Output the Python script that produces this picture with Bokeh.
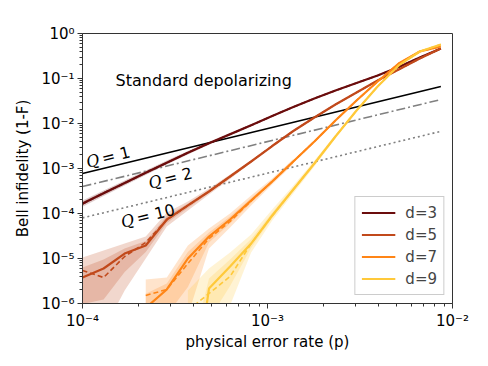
import math
from bokeh.plotting import figure
from bokeh.models import Range1d, FixedTicker, Label, Legend, LegendItem, CustomJSTickFormatter
from bokeh.embed import file_html
from bokeh.resources import INLINE
from bokeh.core.properties import value

# ---------------- data ----------------
p_rate = [1.0e-4, 1.3e-4, 1.69e-4, 2.197e-4, 2.856e-4, 3.713e-4, 4.827e-4, 6.275e-4,
          8.157e-4, 1.0604e-3, 1.3786e-3, 1.7922e-3, 2.3298e-3, 3.0288e-3, 3.9374e-3,
          5.1186e-3, 6.6542e-3, 8.6504e-3]

d3_solid = [1.67e-4, 2.82e-4, 4.76e-4, 8.02e-4, 1.35e-3, 2.24e-3, 3.63e-3, 5.75e-3, 9.12e-3,
            1.47e-2, 2.33e-2, 3.59e-2, 5.41e-2, 7.94e-2, 0.117, 0.180, 0.293, 0.464]
d3_dashed = [1.62e-4, 2.86e-4, 4.72e-4, 8.08e-4, 1.34e-3, 2.25e-3, 3.62e-3, 5.77e-3, 9.10e-3,
             1.47e-2, 2.33e-2, 3.59e-2, 5.41e-2, 7.94e-2, 0.117, 0.180, 0.293, 0.464]
d3_hi = [1.95e-4, 3.25e-4, 5.4e-4, 9.0e-4, 1.5e-3, 2.45e-3, 3.95e-3, 6.2e-3, 9.7e-3]
d3_lo = [1.42e-4, 2.45e-4, 4.2e-4, 7.15e-4, 1.22e-3, 2.05e-3, 3.35e-3, 5.35e-3, 8.6e-3]

d5_solid = [3.78e-6, 6.0e-6, 1.29e-5, 1.95e-5, 7.36e-5, 1.51e-4, 3.08e-4, 6.64e-4, 1.43e-3,
            3.16e-3, 6.81e-3, 1.36e-2, 2.64e-2, 4.89e-2, 9.03e-2, 0.158, 0.278, 0.464]
d5_dashed = [5.41e-6, 3.78e-6, 1.11e-5, 2.27e-5, 7.2e-5, 1.5e-4, 3.1e-4, 6.6e-4, 1.43e-3,
             3.16e-3, 6.81e-3, 1.36e-2, 2.64e-2, 4.89e-2, 9.03e-2, 0.158, 0.278, 0.464]
d5_hi = [1.05e-5, 1.51e-5, 2.15e-5, 3.08e-5, 1.05e-4, 1.85e-4, 3.59e-4, 7.36e-4, 1.53e-3]
d5_lo = [2.5e-7, 2.5e-7, 1.95e-6, 1.0e-5, 5.14e-5, 1.17e-4, 2.64e-4, 5.85e-4, 1.34e-3]

d7_solid = [None, None, None, 8e-7, 2.05e-6, 1.0e-5, 3.08e-5, 7.36e-5, 1.95e-4, 5.14e-4,
            1.43e-3, 3.98e-3, 1.17e-2, 3.25e-2, 8.58e-2, 0.215, 0.398, 0.514]
d7_dashed = [None, None, None, 1.51e-6, 2.05e-6, 7.74e-6, 2.78e-5, 6.64e-5, 1.9e-4, 5.14e-4,
             1.43e-3, 3.98e-3, 1.17e-2, 3.25e-2, 8.58e-2, 0.215, 0.398, 0.514]
d7_hi = [3.41e-6, 3.78e-6, 1.95e-5, 4.64e-5, 1.0e-4, 2.51e-4, 6.0e-4, 1.63e-3]
d7_lo = [1.5e-7, 1.5e-7, 5.4e-7, 1.67e-5, 4.89e-5, 1.51e-4, 4.41e-4, 1.26e-3]

d9_solid = [None, None, None, None, None, 1e-9, 2.15e-6, 6.64e-6, 2.15e-5, 9.03e-5, 3.41e-4,
            1.29e-3, 5.14e-3, 1.95e-2, 6.64e-2, 0.195, 0.398, 0.570]
d9_dashed = [None, None, None, None, None, 7e-7, 1.67e-6, 3.98e-6, 2.15e-5, 8.8e-5, 3.41e-4,
             1.29e-3, 5.14e-3, 1.95e-2, 6.64e-2, 0.195, 0.398, 0.570]
d9_hi = [1.95e-6, 6.0e-6, 1.36e-5, 3.41e-5, 1.23e-4, 4.19e-4, 1.51e-3, 5.7e-3]
d9_lo = [9e-8, 9e-8, 9.0e-7, 1.36e-5, 6.98e-5, 2.78e-4, 1.11e-3, 4.64e-3]

q_p = [1.0e-4, 8.6504e-3]
q1 = [7.74e-4, 6.64e-2]
q2 = [3.98e-4, 3.41e-2]
q10 = [8.0e-5, 6.7e-3]

labels = ["d=3", "d=5", "d=7", "d=9"]
colors = ["#6b0d0d", "#c1491b", "#ff8516", "#ffc93a"]
band_start = [0, 0, 3, 5]

FONT = "DejaVu Sans"

# ---------------- figure ----------------
fig = figure(x_axis_type="log", y_axis_type="log",
             x_range=Range1d(1e-4, 1e-2), y_range=Range1d(1e-6, 1.0),
             frame_width=370, frame_height=270,
             min_border_left=82, min_border_right=28, min_border_top=33, min_border_bottom=55,
             output_backend="svg", toolbar_location=None)
fig.background_fill_color = "white"
fig.border_fill_color = "white"
fig.outline_line_color = "#333333"
fig.outline_line_width = 1
fig.grid.visible = False

fmt = CustomJSTickFormatter(code="""
const e = Math.round(Math.log10(tick));
const sup = {'-':'\u207b','0':'\u2070','1':'\u00b9','2':'\u00b2','3':'\u00b3','4':'\u2074','5':'\u2075','6':'\u2076','7':'\u2077','8':'\u2078','9':'\u2079'};
return '10' + String(e).split('').map(c => sup[c]).join('');
""")

x_minor = [k * 10.0 ** e for e in (-4, -3) for k in range(2, 10)]
y_minor = [k * 10.0 ** e for e in range(-6, 0) for k in range(2, 10)]
fig.xaxis.ticker = FixedTicker(ticks=[1e-4, 1e-3, 1e-2], minor_ticks=x_minor)
fig.yaxis.ticker = FixedTicker(ticks=[10.0 ** e for e in range(-6, 1)], minor_ticks=y_minor)
for ax in (fig.xaxis[0], fig.yaxis[0]):
    ax.formatter = fmt
    ax.major_label_text_font = FONT
    ax.major_label_text_font_size = "15px"
    ax.major_label_text_color = "black"
    ax.axis_line_color = "#333333"
    ax.major_tick_line_color = "#333333"
    ax.minor_tick_line_color = "#333333"
    ax.major_tick_out = 5
    ax.major_tick_in = 0
    ax.minor_tick_out = 3
    ax.minor_tick_in = 0
    ax.major_label_standoff = 3
    ax.axis_label_text_font = FONT
    ax.axis_label_text_font_size = "15px"
    ax.axis_label_text_font_style = "normal"
    ax.axis_label_text_color = "black"
fig.xaxis.axis_label = "physical error rate (p)"
fig.yaxis.axis_label = "Bell infidelity (1-F)"
fig.xaxis.axis_label_standoff = 0
fig.yaxis.axis_label_standoff = 6


def valid(xs, ys):
    pts = [(x, y) for x, y in zip(xs, ys) if y is not None]
    return [a for a, _ in pts], [b for _, b in pts]


# bands
curves = [(d3_solid, d3_dashed, d3_hi, d3_lo), (d5_solid, d5_dashed, d5_hi, d5_lo),
          (d7_solid, d7_dashed, d7_hi, d7_lo), (d9_solid, d9_dashed, d9_hi, d9_lo)]
for (sol, das, hi, lo), col, s in zip(curves, colors, band_start):
    bp = p_rate[s:s + len(hi)]
    mid = sol[s:s + len(hi)]
    fig.varea(x=bp, y1=lo, y2=hi, fill_color=col, fill_alpha=0.22)
    ihi = [math.sqrt(m * h) for m, h in zip(mid, hi)]
    ilo = [math.sqrt(max(m, 1e-12) * l) for m, l in zip(mid, lo)]
    fig.varea(x=bp, y1=ilo, y2=ihi, fill_color=col, fill_alpha=0.22)

# reference lines
fig.line(q_p, q1, line_color="black", line_width=1.6)
fig.line(q_p, q2, line_color="#808080", line_width=1.6, line_dash="9 3 2 3")
fig.line(q_p, q10, line_color="#808080", line_width=1.6, line_dash="2 3")

solid_renderers = []
for (sol, das, hi, lo), col in zip(curves, colors):
    xs, ys = valid(p_rate, sol)
    r = fig.line(xs, ys, line_color=col, line_width=2.2)
    solid_renderers.append(r)
    xd, yd = valid(p_rate, das)
    fig.line(xd, yd, line_color=col, line_width=1.6, line_dash="5 3")

# texts
fig.text(x=[1.51e-4], y=[9.0e-2], text=["Standard depolarizing"], text_font=value(FONT),
         text_font_size="16px", text_baseline="alphabetic", text_align="left", text_color="black")

ang = 0.245
q_labels = [(1.05e-4, 1.36e-3, "= 1"), (2.28e-4, 4.64e-4, "= 2"), (1.62e-4, 6.31e-5, "= 10")]
for qx, qy, t in q_labels:
    fig.text(x=[qx], y=[qy], text=["Q"], angle=ang, text_font=value("DejaVu Serif"),
             text_font_style="italic", text_font_size="16px", text_baseline="alphabetic",
             text_align="left", text_color="black")
    fig.text(x=[qx], y=[qy], text=[t], angle=ang, text_font=value(FONT),
             text_font_size="16px", text_baseline="alphabetic", text_align="left",
             text_color="black", x_offset=16 * math.cos(ang), y_offset=-16 * math.sin(ang))

fig.add_layout(Label(x=4.6e-5, y=1.55, text="a)", text_font=FONT, text_font_size="15px",
                     text_baseline="middle", text_align="left", text_color="black"))

legend = Legend(items=[LegendItem(label=l, renderers=[r]) for l, r in zip(labels, solid_renderers)],
                location="bottom_right")
legend.label_text_font = FONT
legend.label_text_font_size = "15px"
legend.border_line_color = "#cccccc"
legend.border_line_alpha = 1.0
legend.background_fill_alpha = 0.85
legend.margin = 8
legend.padding = 6
legend.spacing = 3
legend.glyph_width = 34
legend.glyph_height = 19
legend.label_height = 19
legend.label_standoff = 10
fig.add_layout(legend)

open("out.html", "w").write(file_html(fig, INLINE))
